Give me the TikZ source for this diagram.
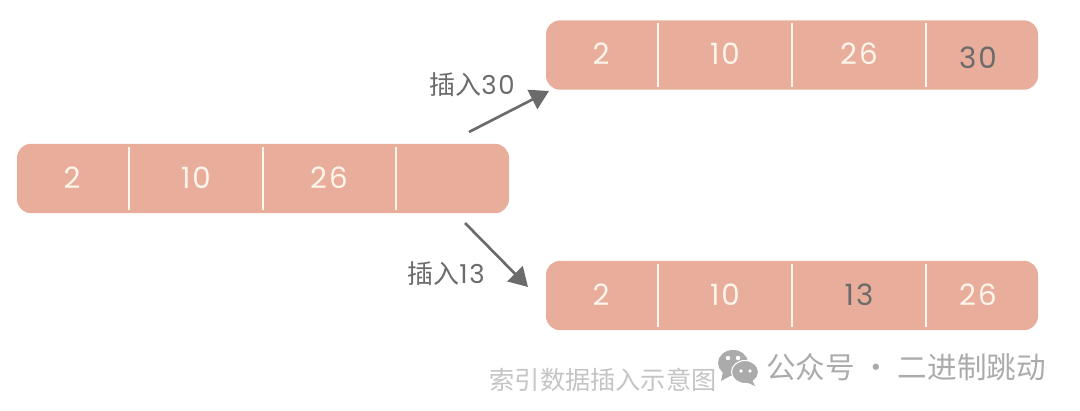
\documentclass[tikz,border=0pt]{standalone}
\usepackage{fontspec}
\setmainfont[LetterSpace=7]{Poppins}
\newfontfamily\cjk{Noto Sans CJK SC}
\usetikzlibrary{arrows.meta,positioning}
\definecolor{barc}{HTML}{E9AD9B}
\definecolor{creamc}{HTML}{FFF5EA}
\definecolor{inkc}{HTML}{6B6B6B}
\definecolor{capc}{HTML}{C4C4C4}
\definecolor{markc}{HTML}{ABABAB}
\tikzset{
  bar/.style={rounded corners=10.5pt,fill=barc,minimum width=369pt,minimum height=52pt,inner sep=0pt},
  sep/.style={draw=creamc,line width=1.6pt},
  cell/.style={font=\fontsize{22}{24}\selectfont,text=creamc,inner sep=0pt},
  newcell/.style={cell,text=inkc},
  lbl/.style={font=\fontsize{19.5}{22}\selectfont,text=inkc,inner sep=0pt},
  ins/.style={draw=inkc,line width=2pt,-{Triangle[length=14pt,width=16pt,fill=inkc]}},
  captext/.style={font=\cjk\fontsize{18.9}{20}\selectfont,text=capc,inner sep=0pt},
  marktext/.style={font=\cjk\fontsize{22.2}{24}\selectfont,text=markc,inner sep=0pt},
}
\begin{document}
\begin{tikzpicture}[x=0.75pt,y=-0.75pt]
  \useasboundingbox (0,0) rectangle (1080,410);
  % the three arrays
  \node[bar] (base) at (263,178.5) {};
  \node[bar] (upper) at (792,55) {};
  \node[bar] (lower) at (792,295.5) {};
  \foreach \x in {129,263,396} \draw[sep] (\x,147) -- (\x,210);
  \foreach \x in {658,792,926} {
    \draw[sep] (\x,23) -- (\x,87);
    \draw[sep] (\x,264) -- (\x,327);
  }
  \node[cell] (base2) at (72,178) {2};
  \node[cell] (base10) at (196,178) {10};
  \node[cell] (base26) at (329,178) {26};
  \node[cell] (upper2) at (601,54) {2};
  \node[cell] (upper10) at (725,54) {10};
  \node[cell] (upper26) at (859,54) {26};
  \node[newcell] (upper30) at (978,58) {30};
  \node[cell] (lower2) at (601,295) {2};
  \node[cell] (lower10) at (725,295) {10};
  \node[newcell] (lower13) at (859,295) {13};
  \node[cell] (lower26) at (978,295) {26};
  % insert arrows
  \coordinate (upfrom) at (469,132);
  \coordinate (upto) at (549,91);
  \coordinate (downfrom) at (465,223);
  \coordinate (downto) at (528,287);
  \draw[ins] (upfrom) -- (upto);
  \draw[ins] (downfrom) -- (downto);
  \node[lbl] (uplbl) at (472,85) {{\cjk 插入}30};
  \node[lbl] (downlbl) at (446,274) {{\cjk 插入}13};
  % caption and watermark
  \node[captext] (caption) at (603,380) {索引数据插入示意图};
  \node[marktext] (account) at (906,367) {公众号 · 二进制跳动};
  \fill[markc] (733,363) ellipse [x radius=15,y radius=13];
  \fill[markc] (723,372) -- (721,381) -- (732,375) -- cycle;
  \filldraw[fill=markc,draw=white,line width=0.8pt] (745,372) ellipse [x radius=13.5,y radius=11.5];
  \fill[markc] (752,380) -- (755,386) -- (746,382) -- cycle;
  \foreach \x/\y/\r in {728/358/2.2,738/358/2.2,741/371/1.8,750/371/1.8} \fill[white] (\x,\y) circle (\r);
\end{tikzpicture}
\end{document}
